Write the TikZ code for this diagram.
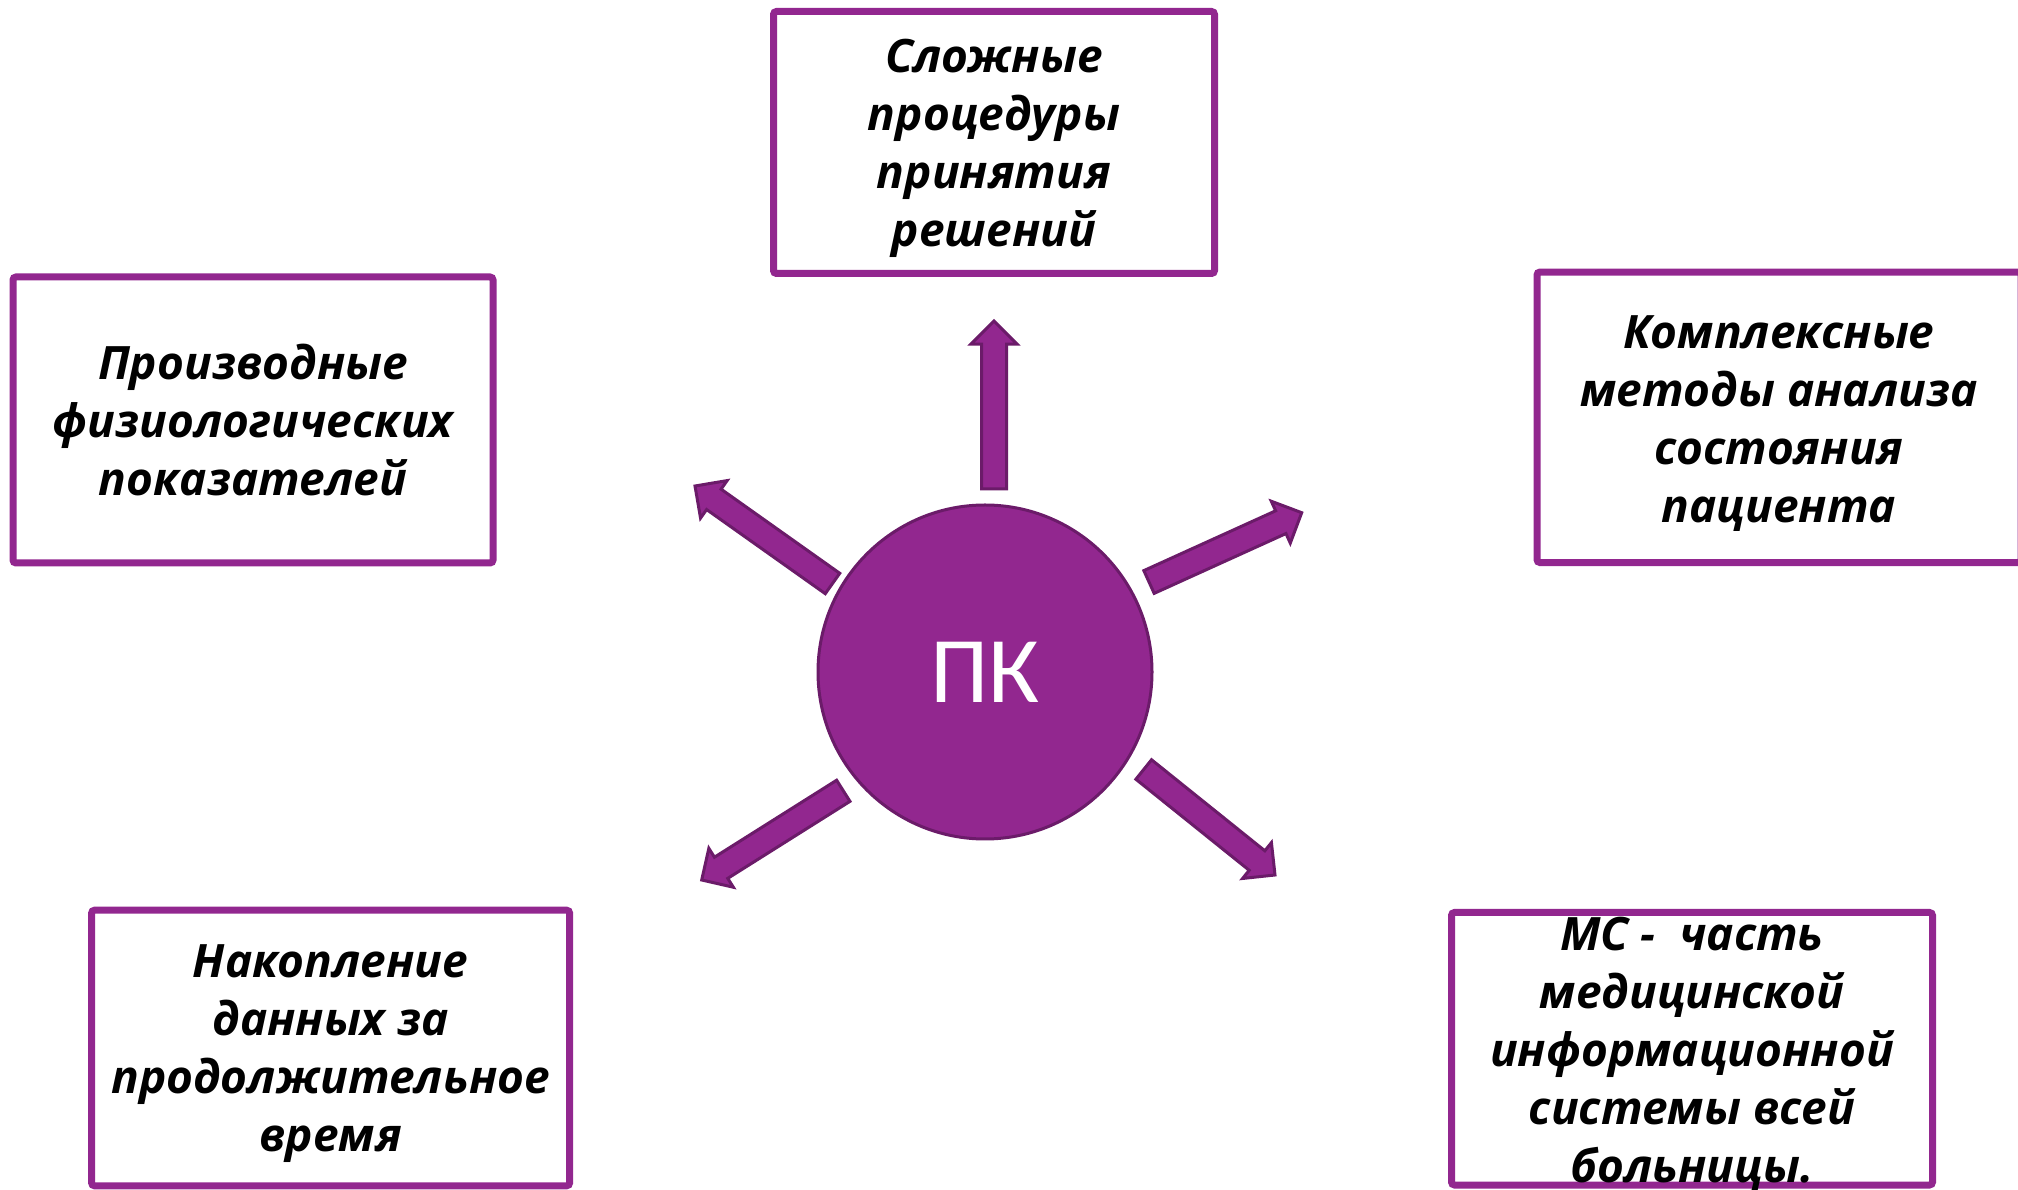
\documentclass[tikz,border=0pt]{standalone}
\usepackage{fontspec}
\setmainfont{Open Sans}
\newfontfamily\circfont{Carlito}
\usepackage{tikz}
\usetikzlibrary{calc}
\definecolor{pkpurple}{HTML}{92278F}
\definecolor{pkdark}{HTML}{6B1B69}
\newcommand\blockarrow[1]{%
  \coordinate (#1b) at ($(#1t)!0.863!(#1h)$);
  \draw[arrowbody] ($(#1t)!12.5pt!90:(#1h)$) -- ($(#1b)!12.5pt!90:(#1h)$)
    -- ($(#1b)!23pt!90:(#1h)$) -- (#1h) -- ($(#1b)!23pt!-90:(#1h)$)
    -- ($(#1b)!12.5pt!-90:(#1h)$) -- ($(#1t)!12.5pt!-90:(#1h)$) -- cycle;}

\begin{document}
\begin{tikzpicture}[x=1pt,y=1pt,scale=.5,
    panel/.style={draw=pkpurple,line width=3.5pt,rounded corners=1.5pt,fill=white,inner sep=0pt},
    paneltext/.style={align=center,inner sep=0pt,yshift=-3pt,font=\fontsize{23}{29}\selectfont\bfseries\itshape},
    arrowbody/.style={fill=pkpurple,draw=pkdark,line width=1.5pt,line join=miter}]
            \useasboundingbox (0, 0) rectangle (2018, 1189);
            \node[circle,fill=pkpurple,draw=pkdark,line width=1.5pt,minimum size=167pt,inner sep=0pt,
                text=white,font=\circfont\fontsize{47}{47}\selectfont] (pc) at (985, 517) {ПК};
            \node[panel,minimum width=220.5pt,minimum height=131pt] (pTop) at (994, 1046.5) {};
            \node[panel,minimum width=240pt,minimum height=143pt] (pLeft) at (253, 769) {};
            \node[panel,minimum width=242pt,minimum height=145.25pt] (pRight) at (1779, 771.7) {};
            \node[panel,minimum width=239pt,minimum height=137.8pt] (pLowL) at (330.6, 141) {};
            \node[panel,minimum width=240.5pt,minimum height=136.25pt] (pLowR) at (1692, 140.25) {};
            \node[paneltext] at (pTop) {Сложные\\процедуры\\принятия\\решений};
            \node[paneltext,yshift=3pt] at (pLeft) {Производные\\физиологических\\показателей};
            \node[paneltext] at (pRight) {Комплексные\\методы анализа\\состояния\\пациента};
            \node[paneltext] at (pLowL) {Накопление\\данных за\\продолжительное\\время};
            \node[paneltext] at (pLowR) {МС -~~часть\\медицинской\\информационной\\системы всей\\больницы.};
            \coordinate (upt) at (994, 700);
            \coordinate (uph) at (994, 868);
            \coordinate (ult) at (832.5, 605.5);
            \coordinate (ulh) at (695, 703);
            \coordinate (urt) at (1149, 607);
            \coordinate (urh) at (1301.7, 676.3);
            \coordinate (llt) at (843.3, 398.2);
            \coordinate (llh) at (701.7, 309);
            \coordinate (lrt) at (1143.7, 419.5);
            \coordinate (lrh) at (1275, 314);
            \blockarrow{up}
            \blockarrow{ul}
            \blockarrow{ur}
            \blockarrow{ll}
            \blockarrow{lr}
        \end{tikzpicture}
\end{document}
